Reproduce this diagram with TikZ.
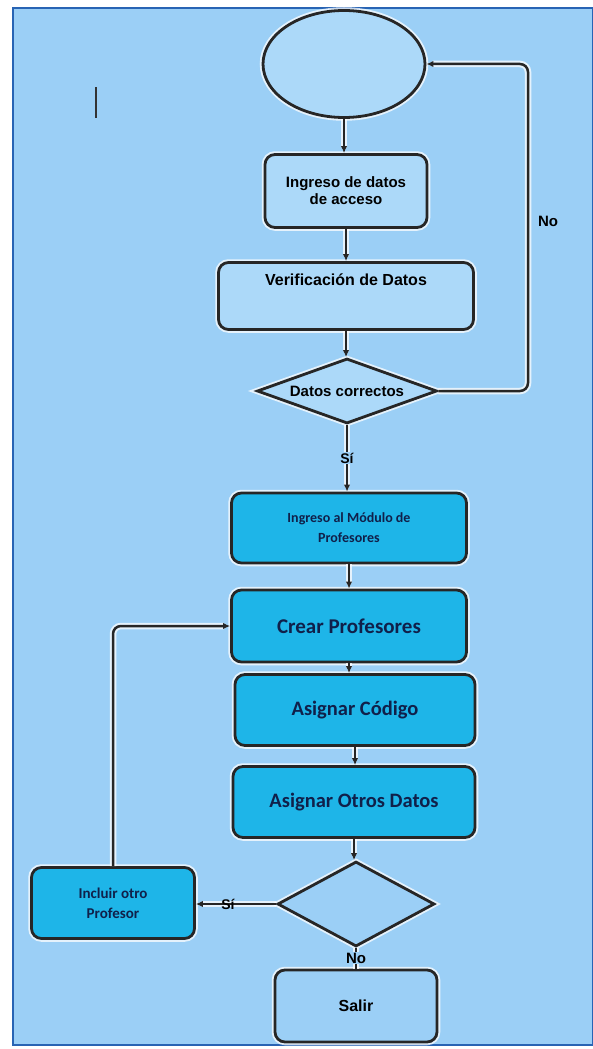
\documentclass[tikz,border=0pt]{standalone}
\usepackage{fontspec}
\setmainfont{Liberation Sans}
\newfontfamily\calib{Carlito}
\usetikzlibrary{shapes.geometric,arrows.meta}
\definecolor{bgblue}{RGB}{155,207,246}
\definecolor{lightbox}{RGB}{172,217,249}
\definecolor{cyanbox}{RGB}{30,181,232}
\definecolor{navytext}{RGB}{16,32,74}
\definecolor{edgeblue}{RGB}{40,100,180}
\tikzset{
  x=1pt, y=-1pt,
  glow/.style={preaction={draw=white, line width=6.5pt, opacity=0.75}},
  shapeline/.style={draw=black!85, line width=2.8pt, glow},
  topbox/.style={shapeline, rounded corners=10pt, fill=lightbox, inner sep=0pt,
     align=center, font=\fontsize{15}{17}\selectfont\bfseries},
  cbox/.style={shapeline, rounded corners=10pt, fill=cyanbox, inner sep=0pt,
     align=center, text=navytext},
  conn/.style={draw=black!85, line width=2.5pt, glow},
  arr/.style={conn, -{Latex[length=7pt,width=6.5pt]}},
  lbl/.style={font=\fontsize{14}{16}\selectfont\bfseries, inner sep=1pt}
}
\begin{document}
\begin{tikzpicture}
\useasboundingbox (0,0) rectangle (592,1049);
\fill[white] (0,0) rectangle (592,1049);
\draw[fill=bgblue, draw=edgeblue, line width=1.5pt] (13,8) rectangle (593,1045);

% cursor mark
\draw[black!80, line width=1.5pt] (96,87) -- (96,118);

% nodes
\node[shapeline, ellipse, fill=lightbox, minimum width=162pt, minimum height=107pt, inner sep=0pt] (start) at (344,64) {};
\node[topbox, minimum width=162pt, minimum height=73pt] (b1) at (346,191) {Ingreso de datos\\de acceso};
\node[topbox, minimum width=255pt, minimum height=67pt] (b2) at (346,296) {};
\node[font=\fontsize{16}{18}\selectfont\bfseries] (b2t) at (346,280) {Verificación de Datos};
\node[shapeline, diamond, aspect=2.77, fill=lightbox, minimum width=180pt, minimum height=65pt, inner sep=0pt,
      font=\fontsize{15}{17}\selectfont\bfseries] (d1) at (347,391) {Datos correctos};

\node[cbox, minimum width=235pt, minimum height=70pt, font=\calib\fontsize{14}{20}\selectfont\bfseries] (b3) at (349,528) {Ingreso al Módulo de\\Profesores};
\node[cbox, minimum width=235pt, minimum height=72pt, font=\calib\fontsize{21}{23}\selectfont\bfseries] (b4) at (349,626) {Crear Profesores};
\node[cbox, minimum width=240pt, minimum height=71pt, font=\calib\fontsize{20.5}{23}\selectfont\bfseries] (b5) at (355,710) {Asignar Código};
\node[cbox, minimum width=242pt, minimum height=71pt, font=\calib\fontsize{20.5}{23}\selectfont\bfseries] (b6) at (354,802) {Asignar Otros Datos};
\node[shapeline, diamond, aspect=1.85, fill=bgblue, minimum width=157pt, minimum height=85pt, inner sep=0pt] (d2) at (356,904) {};
\node[cbox, minimum width=163pt, minimum height=71pt, font=\calib\fontsize{15}{20}\selectfont\bfseries] (b7) at (113,903) {Incluir otro\\Profesor};
\node[topbox, minimum width=162pt, minimum height=72pt, fill=bgblue, font=\fontsize{16}{18}\selectfont\bfseries] (b8) at (356,1006) {Salir};

\coordinate (rc) at (528,64);

% connectors
\draw[arr] (start.south) -- (start.south |- b1.north);
\draw[arr] (b1.south) -- (b1.south |- b2.north);
\draw[arr] (b2.south) -- (b2.south |- d1.north);
\draw[arr, rounded corners=8pt] (d1.east) -| (rc) -- (start.east);
\node[lbl, font=\fontsize{15}{17}\selectfont\bfseries] (no1) at (548,221) {No};
\draw[arr] (d1.south) -- node[lbl, fill=bgblue] (si1) {Sí} (d1.south |- b3.north);
\draw[arr] (b3.south) -- (b3.south |- b4.north);
\draw[arr] (b4.south) -- (b4.south |- b5.north);
\draw[arr] (b5.south) -- (b5.south |- b6.north);
\draw[arr] (b6.south) -- (b6.south |- d2.north);
\draw[arr] (d2.west) -- node[lbl, pos=0.6] (si2) {Sí} (d2.west -| b7.east);
\draw[conn] (d2.south) -- node[lbl, font=\fontsize{15}{17}\selectfont\bfseries, fill=bgblue] (no2) {No} (d2.south |- b8.north);
\draw[arr, rounded corners=8pt] (b7.north) |- (b4.west);
\end{tikzpicture}
\end{document}
